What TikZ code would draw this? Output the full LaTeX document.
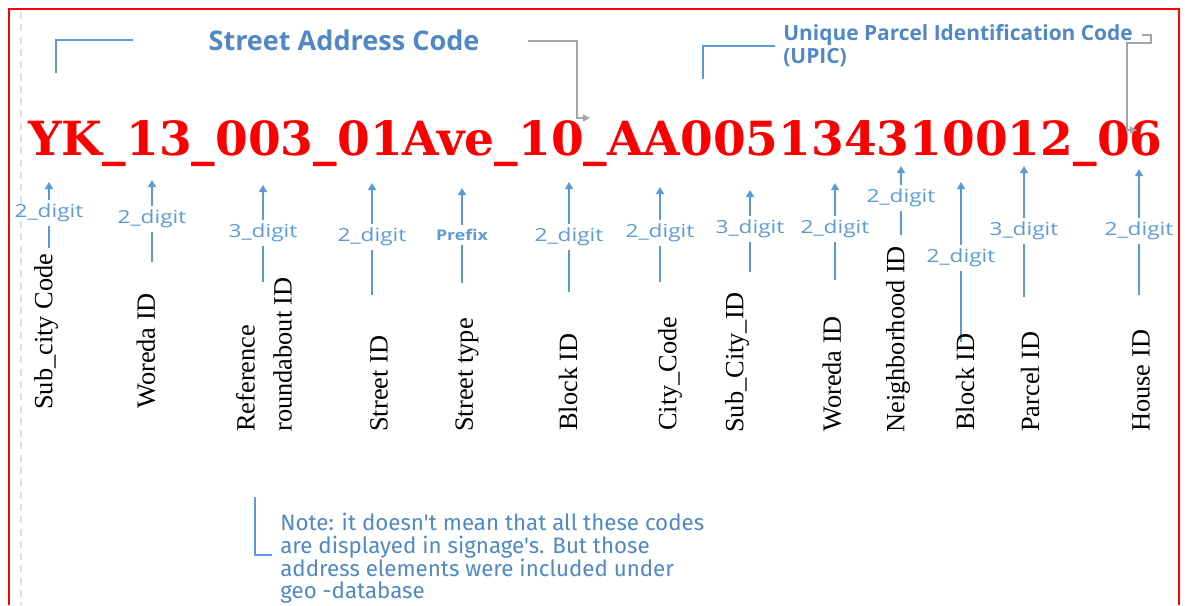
\documentclass[tikz,border=0pt]{standalone}
\usepackage{fontspec}
\usepackage{graphicx}
\usetikzlibrary{arrows.meta}

\setmainfont{Liberation Serif}
\newfontfamily\opensans{Open Sans}
\newfontfamily\firasans{Fira Sans}
\newfontfamily\codefont{DejaVu Serif}

\definecolor{framered}{RGB}{255,0,0}
\definecolor{codered}{RGB}{250,0,0}
\definecolor{linkblue}{RGB}{91,155,213}
\definecolor{textblue}{RGB}{79,136,196}
\definecolor{linkgray}{RGB}{166,166,166}

\newcommand{\ndigit}[1]{\scalebox{1.25}[1]{#1\_digit}}

\tikzset{
  digit/.style={font=\opensans\fontsize{10.3}{12}\selectfont, text=linkblue, inner sep=2pt},
  field/.style={font=\fontsize{15}{21}\selectfont, rotate=90, anchor=west, align=left, inner sep=0pt},
  uparrow/.style={draw=linkblue, line width=0.9pt, -{Triangle[length=4pt,width=4.5pt]}},
  stem/.style={draw=linkblue, line width=0.9pt},
  bracket/.style={draw=linkblue, line width=0.8pt},
  pointer/.style={draw=linkgray, line width=0.8pt, -{Triangle[length=4pt,width=4pt]}},
}

\begin{document}
\begin{tikzpicture}[x=0.02cm, y=-0.02cm]
  \useasboundingbox (0,0) rectangle (1185,605);
  % frame and dashed guide
  \draw[framered, line width=1.2pt] (9,605) -- (9,9) -- (1179,9) -- (1179,605);
  \draw[gray!25, line width=1pt, dash pattern=on 4pt off 3pt] (21,12) -- (21,605);

  % headings
  \node[font=\opensans\bfseries\fontsize{15.4}{17}\selectfont, text=textblue, inner sep=0] (sac) at (344,40) {Street Address Code};
  \node[font=\opensans\bfseries\fontsize{11.9}{13}\selectfont, text=textblue, align=left, anchor=north west, inner sep=0] (upic) at (783,24) {Unique Parcel Identification Code\\(UPIC)};
  \draw[bracket] (56,73) -- (56,40) -- (133,40);
  \draw[bracket] (703,79) -- (703,46) -- (775,46);

  % the code itself
  \node[anchor=base west, inner sep=0, text=codered] (code) at (28,155) {\resizebox{22.68cm}{!}{\codefont\bfseries YK\_13\_003\_01Ave\_10\_AA005134310012\_06}};

  % gray pointers into the code
  \coordinate (p1) at (528,41);
  \coordinate (p1e) at (590,118);
  \draw[pointer] (p1) -- (577,41) -- (577,118) -- (p1e);
  \coordinate (p2) at (1142,35);
  \coordinate (p2e) at (1137,130);
  \draw[pointer] (p2) -- (1151,35) -- (1151,43) -- (1127,43) -- (1127,130) -- (p2e);

  % street address part
  \node[digit] (d1) at (49,213) {\ndigit{2}};
  \path (49,182) coordinate (t1) (49,248) coordinate (e1);
  \draw[uparrow] (d1) -- (t1); \draw[stem] (d1) -- (e1);
  \node[field] (f1) at (46,410) {Sub\_city Code};

  \node[digit] (d2) at (152,219) {\ndigit{2}};
  \path (152,180) coordinate (t2) (152,262) coordinate (e2);
  \draw[uparrow] (d2) -- (t2); \draw[stem] (d2) -- (e2);
  \node[field] (f2) at (146,409) {Woreda ID};

  \node[digit] (d3) at (263,233) {\ndigit{3}};
  \path (263,185) coordinate (t3) (263,282) coordinate (e3);
  \draw[uparrow] (d3) -- (t3); \draw[stem] (d3) -- (e3);
  \node[field] (f3) at (264,432) {Reference\\roundabout ID};

  \node[digit] (d4) at (372,237) {\ndigit{2}};
  \path (372,183) coordinate (t4) (372,295) coordinate (e4);
  \draw[uparrow] (d4) -- (t4); \draw[stem] (d4) -- (e4);
  \node[field] (f4) at (379,432) {Street ID};

  \node[digit, font=\opensans\bfseries\fontsize{8.4}{10}\selectfont] (d5) at (462,235) {\scalebox{1.2}[1]{Prefix}};
  \path (462,188) coordinate (t5) (462,283) coordinate (e5);
  \draw[uparrow] (d5) -- (t5); \draw[stem] (d5) -- (e5);
  \node[field] (f5) at (467,432) {Street type};

  \node[digit] (d6) at (569,237) {\ndigit{2}};
  \path (569,182) coordinate (t6) (569,292) coordinate (e6);
  \draw[uparrow] (d6) -- (t6); \draw[stem] (d6) -- (e6);
  \node[field] (f6) at (568,431) {Block ID};

  % parcel identification part
  \node[digit] (d7) at (660,233) {\ndigit{2}};
  \path (660,187) coordinate (t7) (660,282) coordinate (e7);
  \draw[uparrow] (d7) -- (t7); \draw[stem] (d7) -- (e7);
  \node[field] (f7) at (670,431) {City\_Code};

  \node[digit] (d8) at (750,229) {\ndigit{3}};
  \path (750,190) coordinate (t8) (750,272) coordinate (e8);
  \draw[uparrow] (d8) -- (t8); \draw[stem] (d8) -- (e8);
  \node[field] (f8) at (737,433) {Sub\_City\_ID};

  \node[digit] (d9) at (835,229) {\ndigit{2}};
  \path (835,183) coordinate (t9) (835,280) coordinate (e9);
  \draw[uparrow] (d9) -- (t9); \draw[stem] (d9) -- (e9);
  \node[field] (f9) at (832,432) {Woreda ID};

  \node[digit] (d10) at (901,198) {\ndigit{2}};
  \path (901,166) coordinate (t10) (901,235) coordinate (e10);
  \draw[uparrow] (d10) -- (t10); \draw[stem] (d10) -- (e10);
  \node[field] (f10) at (898,433) {Neighborhood ID};

  \node[digit] (d11) at (961,258) {\ndigit{2}};
  \path (961,182) coordinate (t11) (961,342) coordinate (e11);
  \draw[uparrow] (d11) -- (t11); \draw[stem] (d11) -- (e11);
  \node[field] (f11) at (965,431) {Block ID};

  \node[digit] (d12) at (1024,231) {\ndigit{3}};
  \path (1024,166) coordinate (t12) (1024,297) coordinate (e12);
  \draw[uparrow] (d12) -- (t12); \draw[stem] (d12) -- (e12);
  \node[field] (f12) at (1030,432) {Parcel ID};

  \node[digit] (d13) at (1139,231) {\ndigit{2}};
  \path (1139,169) coordinate (t13) (1139,295) coordinate (e13);
  \draw[uparrow] (d13) -- (t13); \draw[stem] (d13) -- (e13);
  \node[field] (f13) at (1141,432) {House ID};

  % note
  \draw[bracket] (255,497) -- (255,555) -- (272,555);
  \node[font=\firasans\fontsize{12.7}{12.9}\selectfont, text=textblue, align=left, anchor=north west, inner sep=0] (note) at (280,513) {Note: it doesn't mean that all these codes\\are displayed in signage's. But those\\address elements were included under\\geo -database};
\end{tikzpicture}
\end{document}
